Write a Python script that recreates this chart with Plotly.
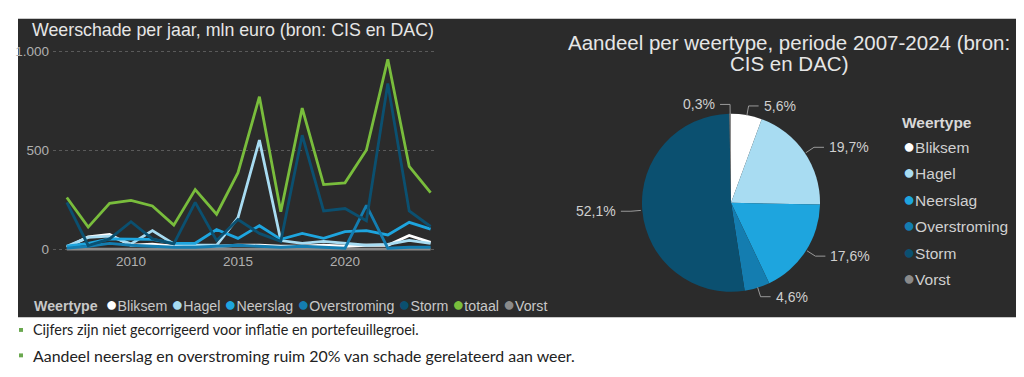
import math
import plotly.graph_objects as go

# ---------------- data ----------------
years = list(range(2007, 2025))
bliksem      = [10, 62, 75, 20, 25, 15, 15, 15, 20, 20, 15, 15, 20, 15, 20, 20, 70, 35]
hagel        = [15, 60, 66, 27, 94, 27, 20, 20, 160, 552, 44, 30, 40, 30, 20, 25, 45, 30]
neerslag     = [15, 30, 52, 50, 50, 30, 30, 100, 55, 119, 50, 80, 55, 89, 94, 72, 136, 102]
overstroming = [5, 15, 30, 20, 15, 10, 10, 15, 20, 15, 10, 15, 10, 5, 222, 5, 10, 10]
storm        = [237, 19, 52, 139, 52, 27, 237, 44, 150, 80, 40, 577, 194, 206, 144, 839, 194, 115]
totaal       = [262, 112, 232, 247, 219, 122, 302, 177, 387, 772, 190, 714, 327, 336, 502, 961, 419, 286]
vorst        = [1, 1, 1, 1, 1, 1, 1, 1, 1, 1, 1, 1, 1, 1, 1, 1, 1, 1]

line_names = ["Bliksem", "Hagel", "Neerslag", "Overstroming", "Storm", "totaal", "Vorst"]
line_series = [bliksem, hagel, neerslag, overstroming, storm, totaal, vorst]

pie_labels = ["Bliksem", "Hagel", "Neerslag", "Overstroming", "Storm", "Vorst"]
pie_values = [5.6, 19.7, 17.6, 4.6, 52.1, 0.3]

y_tickvals = [0, 500, 1000]
y_ticktext = ["0", "500", "1.000"]
x_tickvals = [2010, 2015, 2020]

left_title = "Weerschade per jaar, mln euro (bron: CIS en DAC)"
right_title_lines = ["Aandeel per weertype, periode 2007-2024 (bron:", "CIS en DAC)"]
legend_title = "Weertype"
bullets = ["Cijfers zijn niet gecorrigeerd voor inflatie en portefeuillegroei.",
           "Aandeel neerslag en overstroming ruim 20% van schade gerelateerd aan weer."]
bullet_sizes = [14.4, 15.9]

# ---------------- style ----------------
colors = {
    "Bliksem": "#ffffff",
    "Hagel": "#a8dcf2",
    "Neerslag": "#1ea5de",
    "Overstroming": "#147db0",
    "Storm": "#0b5070",
    "totaal": "#79bd3c",
    "Vorst": "#8a8a8a",
}
# the page body has an 8px margin: the figure is drawn from (8, 8)
OFF = 8
W, H = 1024 - OFF, 377 - OFF
FONT = "Liberation Sans, Arial, sans-serif"


def X(px):
    return (px - OFF) / W


def Y(py):
    return 1 - (py - OFF) / H


fig = go.Figure()

order = [6, 0, 1, 2, 3, 4, 5]
for i in order:
    fig.add_trace(go.Scatter(
        x=years, y=line_series[i], name=line_names[i], mode="lines",
        line=dict(color=colors[line_names[i]], width=2.8),
        xaxis="x", yaxis="y", showlegend=False))

pie_x0, pie_x1, pie_y0, pie_y1 = 640.5, 821.5, 113, 295
fig.add_trace(go.Pie(
    labels=pie_labels, values=pie_values, sort=False, direction="clockwise",
    rotation=0, textinfo="none", hoverinfo="label+percent",
    marker=dict(colors=[colors[l] for l in pie_labels], line=dict(width=0)),
    domain=dict(x=[X(pie_x0), X(pie_x1)], y=[Y(pie_y1), Y(pie_y0)]),
    showlegend=False))

shapes = [dict(type="rect", xref="paper", yref="paper",
               x0=X(18), x1=X(1016), y0=Y(321), y1=Y(16),
               fillcolor="#2b2b2b", line=dict(width=0), layer="below")]
annotations = []

annotations.append(dict(text=left_title, xref="paper", yref="paper", x=X(30), y=Y(27),
                        xanchor="left", yanchor="middle", showarrow=False,
                        font=dict(family=FONT, size=17.8, color="#e6e6e6")))
for k, t in enumerate(right_title_lines):
    annotations.append(dict(text=t, xref="paper", yref="paper", x=X(789), y=Y(40 + 22 * k),
                            xanchor="center", yanchor="middle", showarrow=False,
                            font=dict(family=FONT, size=20.5, color="#e6e6e6")))

# pie labels with leader lines, computed from slice angles
cx, cy = (pie_x0 + pie_x1) / 2, (pie_y0 + pie_y1) / 2
r = (pie_x1 - pie_x0) / 2
total = sum(pie_values)
cum = 0.0
for lab, v in zip(pie_labels, pie_values):
    mid = (cum + v / 2) / total * 2 * math.pi
    cum += v
    s, c = math.sin(mid), math.cos(mid)
    ex, ey = cx + r * s, cy - r * c
    bx, by = cx + (r + 10) * s, cy - (r + 10) * c
    side = 1 if s >= 0 else -1
    hx = bx + side * 10
    path = f"M {X(ex)},{Y(ey)} L {X(bx)},{Y(by)} L {X(hx)},{Y(by)}"
    shapes.append(dict(type="path", xref="paper", yref="paper", path=path,
                       line=dict(color="#9a9a9a", width=1)))
    txt = f"{v:.1f}".replace(".", ",") + "%"
    annotations.append(dict(text=txt, xref="paper", yref="paper",
                            x=X(hx + side * 3), y=Y(by),
                            xanchor="left" if side > 0 else "right", yanchor="middle",
                            showarrow=False,
                            font=dict(family=FONT, size=14, color="#cfcfcf")))

# bottom legend of line chart
DOT = "<span style='color:{c};font-size:20px'>●</span>"
parts = [f"<b>{legend_title}</b> "]
for n in line_names:
    parts.append(DOT.format(c=colors[n]) + n)
annotations.append(dict(text=" ".join(parts), xref="paper", yref="paper",
                        x=X(32), y=Y(308), xanchor="left", yanchor="middle",
                        showarrow=False,
                        font=dict(family=FONT, size=14.2, color="#c8c8c8")))

# pie legend
annotations.append(dict(text=f"<b>{legend_title}</b>", xref="paper", yref="paper",
                        x=X(900), y=Y(122), xanchor="left", yanchor="middle",
                        showarrow=False,
                        font=dict(family=FONT, size=15.5, color="#d8d8d8")))
for k, n in enumerate(pie_labels):
    annotations.append(dict(text=DOT.format(c=colors[n]) + n,
                            xref="paper", yref="paper",
                            x=X(901), y=Y(146 + k * 27), xanchor="left", yanchor="middle",
                            showarrow=False,
                            font=dict(family=FONT, size=15.5, color="#d0d0d0")))

# bullets below
for k, t in enumerate(bullets):
    yy = 334 + k * 26
    shapes.append(dict(type="rect", xref="paper", yref="paper",
                       x0=X(19), x1=X(23), y0=Y(yy + 2), y1=Y(yy - 2),
                       fillcolor="#6aa84f", line=dict(width=0)))
    annotations.append(dict(text=t, xref="paper", yref="paper", x=X(31), y=Y(yy),
                            xanchor="left", yanchor="middle", showarrow=False,
                            font=dict(family="Lato, Carlito, sans-serif", size=bullet_sizes[k],
                                      color="#222222")))

# axes domains in pixels
ax_l, ax_r, ax_t, ax_b = 53, 437, 45, 254
x_per_year = 21.4
x_2007 = 66.8
y0_px, y1000_px = 251.5, 49.5
ppu = (y0_px - y1000_px) / 1000

fig.update_layout(
    width=W, height=H, margin=dict(l=0, r=0, t=0, b=0),
    paper_bgcolor="white", plot_bgcolor="rgba(0,0,0,0)",
    font=dict(family=FONT),
    xaxis=dict(domain=[X(ax_l), X(ax_r)],
               range=[2007 - (x_2007 - ax_l) / x_per_year, 2007 + (ax_r - x_2007) / x_per_year],
               tickvals=x_tickvals, showgrid=False, zeroline=False, showline=False,
               ticks="", tickfont=dict(family=FONT, size=13.5, color="#b0b0b0")),
    yaxis=dict(domain=[Y(ax_b), Y(ax_t)],
               range=[(y0_px - ax_b) / ppu, (y0_px - ax_t) / ppu],
               tickvals=y_tickvals, ticktext=y_ticktext, showgrid=True,
               gridcolor="#5a5a5a", griddash="dot", gridwidth=1, zeroline=False,
               showline=False, ticks="", ticklabelstandoff=3,
               tickfont=dict(family=FONT, size=13.5, color="#b0b0b0")),
    shapes=shapes, annotations=annotations,
)

fig.write_html("out.html")
